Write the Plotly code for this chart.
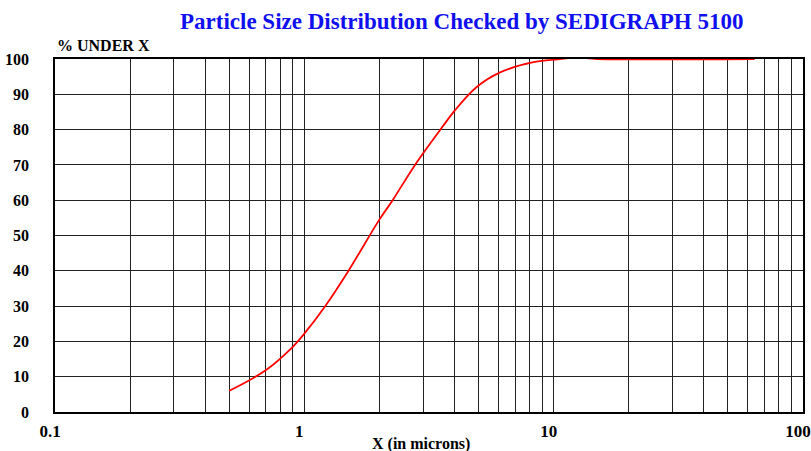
import plotly.graph_objects as go

# Data
size_um = [0.5, 0.7, 0.88, 1.0, 1.21, 1.5, 2.0, 2.26, 2.78, 3.6, 4.0, 4.9, 6.1, 8.3, 10.0, 12.4, 15.0, 64.0]
pct_under = [6.0, 11.8, 17.8, 22.2, 29.9, 39.9, 54.5, 60.0, 70.0, 81.0, 85.3, 92.0, 96.2, 99.1, 99.8, 100.4, 100.0, 100.0]

x_grid = [m * d for d in (0.1, 1, 10) for m in range(1, 10)] + [100]
x_labels = ["0.1" if v == 0.1 else "1" if v == 1 else "10" if v == 10 else "100" if v == 100 else "" for v in x_grid]
y_ticks = list(range(0, 101, 10))

serif = "Liberation Serif, Times New Roman, serif"

fig = go.Figure()
fig.add_trace(go.Scatter(
    x=size_um, y=pct_under, mode="lines",
    line=dict(color="#ff0000", width=1.8, shape="spline", smoothing=1.0),
    cliponaxis=False, showlegend=False, hoverinfo="skip",
))

fig.update_layout(
    width=811, height=451,
    margin=dict(l=55, r=8, t=59, b=39),
    paper_bgcolor="white", plot_bgcolor="white",
    font=dict(family=serif, color="black"),
    xaxis=dict(
        type="log", range=[-1, 2], automargin=False,
        tickmode="array", tickvals=x_grid, ticktext=x_labels,
        showgrid=True, gridcolor="#222", gridwidth=1,
        showline=True, mirror=True, linecolor="black", linewidth=1.5,
        ticks="", tickfont=dict(family=serif, size=17, color="black", weight="bold"),
        ticklabelstandoff=3, ticklabelshift=-5, ticklabeloverflow="allow",
        zeroline=False,
    ),
    yaxis=dict(
        range=[0, 100], automargin=False,
        tickmode="array", tickvals=y_ticks,
        showgrid=True, gridcolor="#222", gridwidth=1,
        showline=True, mirror=True, linecolor="black", linewidth=1.5,
        ticks="", tickfont=dict(family=serif, size=16, color="black", weight="bold"),
        ticklabelstandoff=21, zeroline=False,
    ),
)

pw, ph = 811 - 55 - 8, 451 - 59 - 39
specs = [
    ("<b>Particle Size Distribution Checked by SEDIGRAPH 5100</b>", 462, 21, "center", 23, "#1010ee"),
    ("<b>% UNDER X</b>", 55, 46, "left", 16, "black"),
    ("<b>X (in microns)</b>", 421, 444, "center", 16, "black"),
]
for text, px, py, xa, sz, col in specs:
    fig.add_annotation(
        text=text, xref="paper", yref="paper",
        x=(px - 55) / pw, y=(412 - py) / ph,
        xanchor=xa, yanchor="middle", showarrow=False,
        font=dict(family=serif, size=sz, color=col),
    )

fig.write_html(
    "out.html",
    config={"displayModeBar": False},
    post_script="document.body.style.margin='0px';document.body.style.overflow='hidden';",
)
